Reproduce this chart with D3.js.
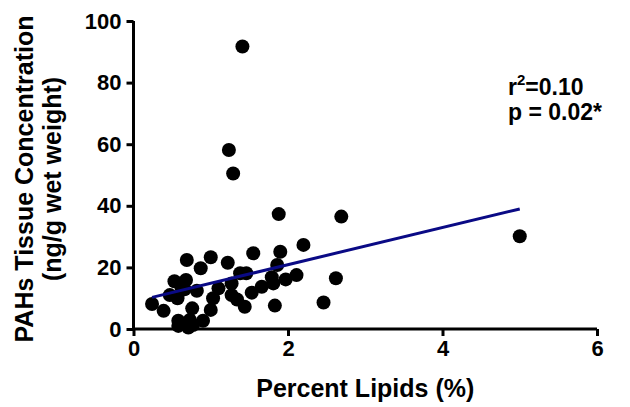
<!DOCTYPE html>
<html><head><meta charset="utf-8">
<script src="https://cdn.jsdelivr.net/npm/d3@7"></script>
<style>body{margin:0;background:#fff}svg{display:block}text{font-family:"Liberation Sans",Arial,sans-serif;font-weight:bold;fill:#000}</style>
</head><body>
<script>
const lipids = [1.41,1.235,1.29,1.88,2.69,5.00,2.20,1.90,1.55,1.00,0.69,1.22,1.86,0.87,1.38,1.46,2.11,1.79,2.62,1.97,0.53,0.68,1.27,1.81,1.66,1.10,0.66,0.82,1.53,1.27,0.47,0.57,1.03,1.34,2.46,0.24,1.83,1.44,0.76,1.00,0.39,0.73,0.58,0.90,0.58,0.71,0.77,0.62];
const pahs   = [91.7,58.1,50.5,37.3,36.5,30.1,27.3,25.1,24.6,23.3,22.4,21.5,20.8,19.7,18.1,18.1,17.5,16.8,16.5,16.1,15.5,15.9,14.8,14.8,13.7,13.2,12.9,12.4,11.8,11.0,11.0,10.0,10.0,9.6,8.6,8.1,7.6,7.2,6.7,6.2,5.9,2.9,2.7,2.7,1.0,0.5,1.3,13.5];
const fitSlope = 6.03, fitIntercept = 8.83;
const xTicks = [0,2,4,6];
const yTicks = [0,20,40,60,80,100];
const xTitle = "Percent Lipids (%)";
const yTitle = ["PAHs Tissue Concentration","(ng/g wet weight)"];

const W=630,H=407;
const svg=d3.select("body").append("svg").attr("width",W).attr("height",H);
const x=d3.scaleLinear().domain([0,6]).range([133.5,597]);
const y=d3.scaleLinear().domain([0,100]).range([329,21]);

// points
svg.append("g").selectAll("circle").data(lipids.map((v,i)=>[v,pahs[i]])).join("circle")
  .attr("cx",d=>x(d[0])).attr("cy",d=>y(d[1])).attr("r",7).attr("fill","#000");

// fit line
const xmin=d3.min(lipids), xmax=d3.max(lipids);
svg.append("line").attr("x1",x(xmin)).attr("y1",y(fitIntercept+fitSlope*xmin))
  .attr("x2",x(xmax)).attr("y2",y(fitIntercept+fitSlope*xmax))
  .attr("stroke","#0a0a85").attr("stroke-width",3);

// axes
const xa=svg.append("g").attr("transform","translate(0,329)")
  .call(d3.axisBottom(x).tickValues(xTicks).tickFormat(d3.format("d")).tickSize(7).tickPadding(4));
const ya=svg.append("g").attr("transform","translate(133.5,0)")
  .call(d3.axisLeft(y).tickValues(yTicks).tickFormat(d3.format("d")).tickSize(7).tickPadding(5));
[xa,ya].forEach(a=>{
  a.select(".domain").attr("stroke","#000").attr("stroke-width",3);
  a.selectAll(".tick line").attr("stroke","#000").attr("stroke-width",3);
  a.selectAll("text").style("font-size","22px").style("font-weight","bold").attr("fill","#000");
});
xa.select(".domain").attr("d","M"+x(0)+",0H"+x(6));
ya.select(".domain").attr("d","M0,"+y(100)+"V"+(y(0)+1.5));

// titles
svg.append("text").attr("x",(x(0)+x(6))/2).attr("y",397).attr("text-anchor","middle")
  .style("font-size","25px").text(xTitle);
const yt=svg.append("text").attr("transform","translate(33,179) rotate(-90)").attr("text-anchor","middle").style("font-size","25px");
yt.append("tspan").attr("x",0).attr("dy",0).text(yTitle[0]);
yt.append("tspan").attr("x",0).attr("dy",28).text(yTitle[1]);

// annotation
const a1=svg.append("text").attr("x",508).attr("y",95).style("font-size","23px");
a1.append("tspan").text("r");
a1.append("tspan").attr("dy",-10).style("font-size","15px").text("2");
a1.append("tspan").attr("dy",10).text("=0.10");
svg.append("text").attr("x",508).attr("y",120).style("font-size","23px").text("p = 0.02*");
</script>
</body></html>
